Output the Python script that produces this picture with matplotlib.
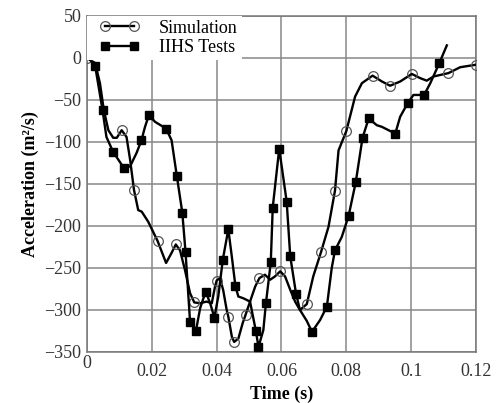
import matplotlib
matplotlib.use("Agg")
import matplotlib.pyplot as plt
from matplotlib.legend_handler import HandlerLine2D
from matplotlib.transforms import ScaledTranslation

# Simulation curve (time s, acceleration)
sim_t = [0.0, 0.0025, 0.004, 0.0052, 0.0066, 0.0081, 0.0092, 0.0107, 0.0122, 0.0133, 0.0145,
         0.0158, 0.0169, 0.0189, 0.0218, 0.0244, 0.0261, 0.0274, 0.0287, 0.0302, 0.0318,
         0.0331, 0.0349, 0.0369, 0.0385, 0.0395, 0.0400, 0.0410, 0.0420, 0.0431, 0.0436,
         0.0447, 0.0454, 0.0467, 0.0480, 0.0489, 0.0503, 0.0519, 0.0532, 0.0549, 0.0565,
         0.0580, 0.0596, 0.0611, 0.0627, 0.0642, 0.0657, 0.0678, 0.0698, 0.0722, 0.0745,
         0.0765, 0.0776, 0.0800, 0.0827, 0.0848, 0.0881, 0.0910, 0.0935, 0.0966, 0.1002,
         0.1028, 0.1048, 0.1069, 0.1115, 0.1151, 0.1200]
sim_a = [0, -6, -30, -62, -86, -95, -95, -86, -94, -121, -157,
         -181, -183, -195, -218, -244, -232, -222, -229, -252, -280,
         -291, -292, -290, -292, -272, -265, -262, -276, -300, -308,
         -332, -338, -334, -316, -306, -290, -272, -262, -258, -264,
         -260, -254, -260, -276, -290, -300, -293, -260, -231, -201,
         -158, -110, -87, -46, -30, -21, -28, -33, -28, -19,
         -24, -27, -22, -18, -11, -8]
sim_marks = [0, 7, 10, 14, 17, 21, 26, 30, 32, 35, 38, 42, 47, 49, 51, 53, 56, 58, 60, 64, 66]

# IIHS test curve
iihs_t = [0.0, 0.0025, 0.0048, 0.0060, 0.0081, 0.0114, 0.0133, 0.0153, 0.0168, 0.0179, 0.0191,
          0.0210, 0.0244, 0.0261, 0.0277, 0.0294, 0.0304, 0.0318, 0.0336, 0.0349, 0.0366,
          0.0380, 0.0393, 0.0405, 0.0419, 0.0436, 0.0447, 0.0458, 0.0467, 0.0482, 0.0503,
          0.0521, 0.0529, 0.0544, 0.0552, 0.0567, 0.0573, 0.0593, 0.0616, 0.0627, 0.0645,
          0.0657, 0.0678, 0.0694, 0.0719, 0.0740, 0.0755, 0.0765, 0.0786, 0.0807, 0.0829,
          0.0850, 0.0869, 0.0894, 0.0910, 0.0951, 0.0966, 0.0989, 0.1007, 0.1040, 0.1059,
          0.1087, 0.1110]
iihs_a = [2, -9, -62, -94, -112, -131, -129, -113, -98, -82, -68,
          -76, -84, -98, -140, -184, -231, -314, -325, -298, -278,
          -292, -309, -284, -240, -204, -237, -272, -284, -286, -290,
          -325, -344, -324, -292, -243, -178, -108, -171, -236, -281,
          -300, -313, -326, -312, -296, -250, -229, -213, -188, -148,
          -95, -72, -80, -82, -90, -70, -54, -44, -44, -30,
          -6, 15]
iihs_marks = [1, 2, 4, 5, 8, 10, 12, 14, 15, 16, 17, 18, 20, 22, 24, 25, 27, 31, 32, 34,
              35, 36, 37, 38, 39, 40, 43, 45, 47, 49, 50, 51, 52, 55, 57, 59, 61]

x_ticks = [0, 0.02, 0.04, 0.06, 0.08, 0.1, 0.12]
x_tick_labels = ["0", "0.02", "0.04", "0.06", "0.08", "0.1", "0.12"]
y_ticks = [50, 0, -50, -100, -150, -200, -250, -300, -350]

plt.rcParams['font.family'] = ['Liberation Serif', 'DejaVu Serif']

fig = plt.figure(figsize=(4.99, 4.03), dpi=100)
ax = fig.add_axes([0.1743, 0.1266, 0.7796, 0.8337])

l1, = ax.plot(sim_t, sim_a, color='black', lw=1.7, marker='o', markevery=sim_marks,
              markersize=7, markerfacecolor='none', markeredgecolor='#555555', markeredgewidth=0.9,
              label='Simulation', zorder=3)
l2, = ax.plot(iihs_t, iihs_a, color='black', lw=1.7, marker='s', markevery=iihs_marks,
              markersize=6, markerfacecolor='black', markeredgecolor='black',
              label='IIHS Tests', zorder=3)

ax.set_xlim(0, 0.12)
ax.set_ylim(-350, 50)
ax.set_xticks(x_ticks)
ax.set_xticklabels(x_tick_labels)
ax.set_yticks(y_ticks)
ax.tick_params(length=0, labelsize=13, labelcolor='#333333')
ax.tick_params(axis='x', pad=8)
ax.tick_params(axis='y', pad=4)
ax.grid(True, color='#888888', lw=1.1)
ax.set_axisbelow(True)
for s in ax.spines.values():
    s.set_color('#777777')
    s.set_linewidth(1.1)

# the "0" x label sits a little higher in the original
lab0 = ax.get_xticklabels()[0]
lab0.set_transform(lab0.get_transform() + ScaledTranslation(0, 6 / 72, fig.dpi_scale_trans))

ax.set_xlabel('Time (s)', fontsize=13, fontweight='bold', labelpad=4)
ax.set_ylabel('Acceleration (m\u00b2/s)', fontsize=13, fontweight='bold', labelpad=4)

hm = {l1: HandlerLine2D(numpoints=2, marker_pad=0.8),
      l2: HandlerLine2D(numpoints=2, marker_pad=0.8)}
leg = ax.legend(loc='upper left', numpoints=2, fontsize=13, frameon=True,
                fancybox=False, borderaxespad=0.0, handlelength=3.2,
                handletextpad=0.6, labelspacing=0.15, borderpad=0.2, handler_map=hm)
leg.get_frame().set_facecolor('white')
leg.get_frame().set_edgecolor('none')
leg.get_frame().set_alpha(1.0)

fig.savefig('out.png', dpi=100)
